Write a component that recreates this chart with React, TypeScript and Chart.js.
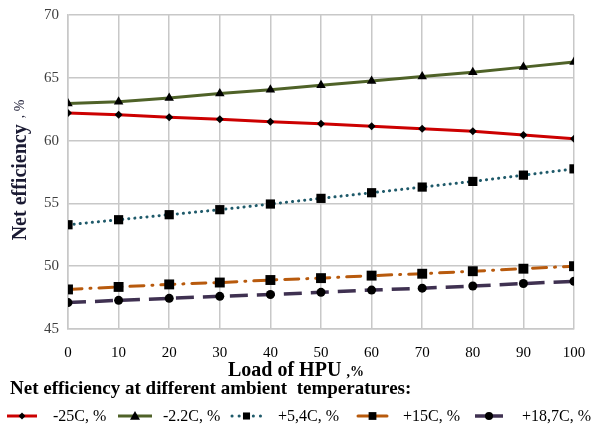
import React, { useEffect, useRef } from 'react';
import { Chart, registerables } from 'chart.js';

Chart.register(...registerables);

const loads = [0, 10, 20, 30, 40, 50, 60, 70, 80, 90, 100];
const seriesNames = ['-25C, %', '-2.2C, %', '+5,4C, %', '+15C, %', '+18,7C, %'];
const minus25 = [62.2, 62.05, 61.85, 61.7, 61.5, 61.35, 61.15, 60.95, 60.75, 60.45, 60.15];
const minus22 = [62.95, 63.1, 63.4, 63.75, 64.05, 64.4, 64.75, 65.1, 65.45, 65.85, 66.25];
const plus54 = [53.3, 53.7, 54.1, 54.5, 54.95, 55.4, 55.85, 56.3, 56.75, 57.25, 57.75];
const plus15 = [48.15, 48.35, 48.55, 48.7, 48.9, 49.05, 49.25, 49.4, 49.6, 49.8, 50.0];
const plus187 = [47.1, 47.28, 47.44, 47.6, 47.75, 47.92, 48.1, 48.25, 48.42, 48.62, 48.8];
const yTicks = [45, 50, 55, 60, 65, 70];
const xTitle = 'Load of HPU';
const yTitle = 'Net efficiency';
const unitText = ', %';
const legendTitle = 'Net efficiency at different ambient  temperatures:';

const SERIF = "'Liberation Serif', 'Times New Roman', serif";

type Style = {
  color: string;
  width: number;
  dash: number[];
  cap: CanvasLineCap;
  point: string;
  radius: number;
};

const styles: Style[] = [
  { color: '#cc0000', width: 3, dash: [], cap: 'butt', point: 'rectRot', radius: 4 },
  { color: '#4f6228', width: 3, dash: [], cap: 'butt', point: 'triangle', radius: 5.5 },
  { color: '#1f5a6a', width: 3, dash: [0.1, 6], cap: 'round', point: 'rect', radius: 6.5 },
  { color: '#b85a0d', width: 3, dash: [14, 8, 1, 8], cap: 'round', point: 'rect', radius: 7 },
  { color: '#3f3151', width: 3.5, dash: [18, 9], cap: 'butt', point: 'circle', radius: 4.5 },
];

const seriesValues = [minus25, minus22, plus54, plus15, plus187];

// legend layout (pixel positions)
const legendSampleX = [7, 118, 230, 358, 475];
const legendSampleW = [30, 34, 33, 29, 28];
const legendLabelX = [53, 163, 278, 403, 522];
const legendMarkerR = [3.5, 5, 5, 5.5, 4];

function drawMarker(ctx: CanvasRenderingContext2D, type: string, x: number, y: number, r: number) {
  ctx.save();
  ctx.fillStyle = '#000';
  ctx.setLineDash([]);
  ctx.beginPath();
  if (type === 'rectRot') {
    ctx.moveTo(x, y - r);
    ctx.lineTo(x + r, y);
    ctx.lineTo(x, y + r);
    ctx.lineTo(x - r, y);
    ctx.closePath();
  } else if (type === 'triangle') {
    ctx.moveTo(x, y - r);
    ctx.lineTo(x + r, y + r * 0.75);
    ctx.lineTo(x - r, y + r * 0.75);
    ctx.closePath();
  } else if (type === 'rect') {
    const s = r * Math.SQRT1_2;
    ctx.rect(x - s, y - s, 2 * s, 2 * s);
  } else {
    ctx.arc(x, y, r, 0, Math.PI * 2);
  }
  ctx.fill();
  ctx.restore();
}

const textPlugin = {
  id: 'customText',
  afterDraw(chart: any) {
    const ctx: CanvasRenderingContext2D = chart.ctx;
    ctx.save();
    // Y title
    ctx.save();
    ctx.translate(21, 170);
    ctx.rotate(-Math.PI / 2);
    ctx.textBaseline = 'middle';
    ctx.fillStyle = '#1a1a33';
    ctx.font = `bold 20px ${SERIF}`;
    const yw = ctx.measureText(yTitle).width;
    ctx.font = `14px ${SERIF}`;
    const uw = ctx.measureText(unitText).width;
    const gap = 6;
    const total = yw + gap + uw;
    ctx.textAlign = 'left';
    ctx.font = `bold 20px ${SERIF}`;
    ctx.fillText(yTitle, -total / 2, 0);
    ctx.font = `14px ${SERIF}`;
    ctx.fillText(unitText, -total / 2 + yw + gap, -1);
    ctx.restore();

    // X title
    ctx.fillStyle = '#000';
    ctx.textBaseline = 'alphabetic';
    ctx.textAlign = 'left';
    ctx.font = `bold 20px ${SERIF}`;
    ctx.fillText(xTitle, 228, 376);
    ctx.font = `bold 14px ${SERIF}`;
    ctx.fillText(' ,%', 343, 376);

    // Legend title
    ctx.font = `bold 19px ${SERIF}`;
    ctx.fillText(legendTitle, 10, 394);

    // Legend items
    const ly = 416;
    chart.data.datasets.forEach((ds: any, i: number) => {
      const st = styles[i];
      const sx = legendSampleX[i];
      const sw = legendSampleW[i];
      ctx.save();
      ctx.strokeStyle = st.color;
      ctx.lineWidth = st.width;
      ctx.lineCap = st.cap;
      ctx.setLineDash(i === 2 ? [0.1, 7] : i === 3 || i === 4 ? [] : st.dash);
      ctx.beginPath();
      if (i === 2) {
        ctx.moveTo(sx + 2, ly);
      } else {
        ctx.moveTo(sx, ly);
      }
      ctx.lineTo(sx + sw, ly);
      ctx.stroke();
      ctx.restore();
      drawMarker(ctx, st.point, sx + sw / 2, ly, legendMarkerR[i]);
      ctx.fillStyle = '#000';
      ctx.font = `16px ${SERIF}`;
      ctx.textBaseline = 'middle';
      ctx.fillText(ds.label, legendLabelX[i], ly + 1);
    });
    ctx.restore();
  },
};

export default function App() {
  const ref = useRef<HTMLCanvasElement>(null);
  useEffect(() => {
    if (!ref.current) return;
    const chart = new Chart(ref.current, {
      type: 'line',
      data: {
        datasets: seriesValues.map((vals, i) => ({
          label: seriesNames[i],
          data: loads.map((x, j) => ({ x, y: vals[j] })),
          borderColor: styles[i].color,
          borderWidth: styles[i].width,
          borderDash: styles[i].dash,
          borderCapStyle: styles[i].cap,
          pointStyle: styles[i].point as any,
          pointRadius: styles[i].radius,
          pointBackgroundColor: '#000',
          pointBorderColor: '#000',
          pointBorderWidth: 0,
          tension: 0,
          fill: false,
        })),
      },
      options: {
        animation: false,
        responsive: false,
        maintainAspectRatio: false,
        layout: { padding: { top: 15, right: 18, left: 0, bottom: 0 } },
        plugins: {
          legend: { display: false },
          tooltip: { enabled: false },
          title: { display: false },
        },
        scales: {
          x: {
            type: 'linear',
            min: 0,
            max: 100,
            ticks: {
              stepSize: 10,
              color: '#000',
              font: { family: SERIF, size: 15 },
              padding: 15,
              maxRotation: 0,
            },
            grid: { color: '#c8c8c8', lineWidth: 1.5, drawTicks: false },
            border: { color: '#c8c8c8', width: 1.5 },
            afterFit: (s: any) => {
              s.height = 97;
              s.paddingLeft = 0;
              s.paddingRight = 0;
            },
          },
          y: {
            type: 'linear',
            min: yTicks[0],
            max: yTicks[yTicks.length - 1],
            ticks: {
              stepSize: 5,
              color: '#404040',
              font: { family: SERIF, size: 15 },
              padding: 9,
            },
            grid: { color: '#c8c8c8', lineWidth: 1.5, drawTicks: false },
            border: { color: '#c8c8c8', width: 1.5 },
            afterFit: (s: any) => {
              s.width = 68;
              s.paddingTop = 0;
              s.paddingBottom = 0;
            },
          },
        },
      },
      plugins: [textPlugin],
    });
    return () => chart.destroy();
  }, []);
  return (
    <div style={{ position: 'absolute', left: 0, top: 0, width: 592, height: 426, background: '#fff' }}>
      <canvas ref={ref} width={592} height={426} style={{ width: 592, height: 426 }} />
    </div>
  );
}
